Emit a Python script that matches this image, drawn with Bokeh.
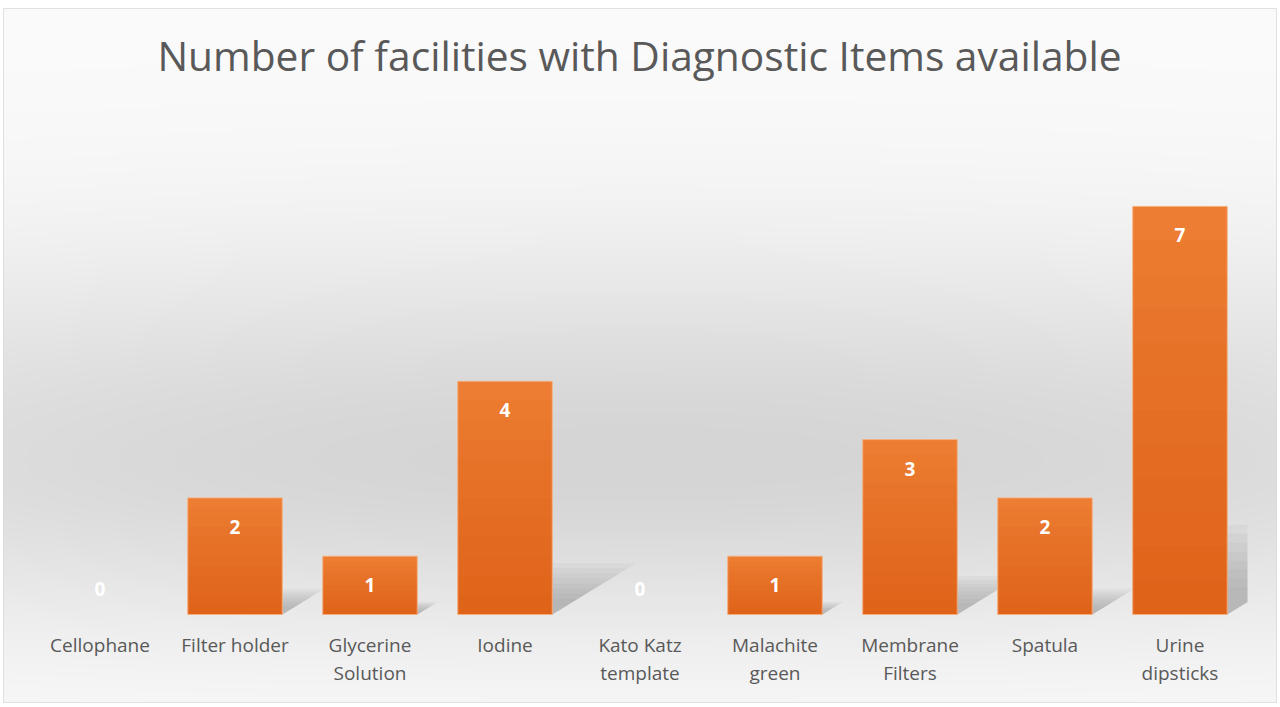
import numpy as np
from bokeh.plotting import figure
from bokeh.models import ColumnDataSource, FactorRange, Range1d, Label
from bokeh.core.properties import value
from bokeh.embed import file_html
from bokeh.resources import INLINE

# ---------------- data ----------------
title_text = "Number of facilities with Diagnostic Items available"
categories = ["Cellophane", "Filter holder", "Glycerine Solution", "Iodine",
              "Kato Katz template", "Malachite green", "Membrane Filters",
              "Spatula", "Urine dipsticks"]
tick_labels = ["Cellophane", "Filter holder", "Glycerine\nSolution", "Iodine",
               "Kato Katz\ntemplate", "Malachite\ngreen", "Membrane\nFilters",
               "Spatula", "Urine\ndipsticks"]
counts = [0, 2, 1, 4, 0, 1, 3, 2, 7]

# ---------------- layout ----------------
W, H = 1280, 707
BL, BR, BT, BB = 3, 4, 8, 5          # borders around the chart area
FW, FH = W - BL - BR, H - BT - BB    # frame size
PX_Y = 58.3                          # pixels per unit on y
BASE = 606                           # baseline, px from top of frame
y_top = BASE / PX_Y
y_bot = -(FH - BASE) / PX_Y
PAD = 0.215
BAR_W = 0.70
FONT = "Open Sans"

x_range = FactorRange(*categories, range_padding=PAD, range_padding_units="absolute")
p = figure(width=W, height=H, x_range=x_range, y_range=Range1d(y_bot, y_top),
           output_backend="svg", toolbar_location=None,
           min_border_left=BL, min_border_right=BR, min_border_top=BT, min_border_bottom=BB,
           x_axis_location=None, y_axis_location=None,
           background_fill_color="#eeeeee", border_fill_color="white",
           outline_line_color="#d9d9d9", outline_line_width=1)
p.xgrid.grid_line_color = None
p.ygrid.grid_line_color = None

# ---------------- background gradient ----------------
ny, nx = 347, 637
fy = FH - (np.arange(ny) + 0.5) * FH / ny + BT      # page y (row 0 = bottom)
fx = (np.arange(nx) + 0.5) * FW / nx + BL
YY, XX = np.meshgrid(fy, fx, indexing="ij")
d = np.where(YY < 460, (YY - 460) / 210.0, (YY - 460) / 175.0)
dark = 38.0 * np.exp(-d ** 2) * (1 - 0.2 * ((XX - 640) / 640.0) ** 2)
val = np.clip(251 - dark, 0, 255).astype(np.uint8)
img = np.empty((ny, nx), dtype=np.uint32)
view = img.view(dtype=np.uint8).reshape((ny, nx, 4))
view[..., 0] = val
view[..., 1] = val
view[..., 2] = val
view[..., 3] = 255
n = len(categories)
p.image_rgba(image=[img], x=-PAD, y=y_bot, dw=n + 2 * PAD, dh=y_top - y_bot)

# ---------------- shadows ----------------
for scale in (1.0, 0.9, 0.8, 0.7, 0.6, 0.5, 0.4, 0.3):
    xs, ys = [], []
    for i, c in enumerate(counts):
        if c <= 0:
            continue
        xr = i + 0.5 + BAR_W / 2
        h = 0.22 * c * scale
        w = 0.155 * c * scale
        if xr + w > n:
            yc = h * (n - xr) / w
            xs.append([xr, xr, n, n])
            ys.append([0, h, h, yc])
        else:
            xs.append([xr, xr, xr + w])
            ys.append([0, h, h])
    p.patches(xs=xs, ys=ys, fill_color="#808080", fill_alpha=0.07, line_color=None)

# ---------------- bars ----------------
src = ColumnDataSource(dict(cat=categories, count=counts))
p.vbar(x="cat", top="count", bottom=0, width=BAR_W, source=src,
       fill_color="#EF8035", line_color=None)
LAYERS = 12
for k in range(LAYERS):
    frac = (k + 1) / LAYERS
    p.vbar(x=categories, top=[c * frac for c in counts], bottom=0, width=BAR_W,
           fill_color="#C84A00", fill_alpha=0.045, line_color=None)
pos_cats = [c for c, v in zip(categories, counts) if v > 0]
pos_vals = [v for v in counts if v > 0]
p.vbar(x=pos_cats, top=pos_vals, bottom=0, width=BAR_W, fill_color=None,
       line_color="#F6B07E", line_width=1, line_alpha=0.9)

# ---------------- value labels ----------------
p.text(x=categories, y=counts, text=[str(c) for c in counts],
       y_offset=[29 if c > 0 else -26 for c in counts],
       text_align="center", text_baseline="middle",
       text_font=value(FONT), text_font_style="bold", text_font_size="19px",
       text_color="white")

# ---------------- category labels ----------------
p.text(x=categories, y=[0] * n, text=tick_labels, y_offset=17,
       text_align="center", text_baseline="top", text_line_height=1.1,
       text_font=value(FONT), text_font_size="19px", text_color="#595959")

# ---------------- title ----------------
p.add_layout(Label(x=W / 2 - 4, y=H - 59, x_units="screen", y_units="screen",
                   text=title_text, text_align="center", text_baseline="middle",
                   text_font=FONT, text_font_size="40.7px", text_color="#595959"))

open("out.html", "w").write(file_html(p, INLINE))
